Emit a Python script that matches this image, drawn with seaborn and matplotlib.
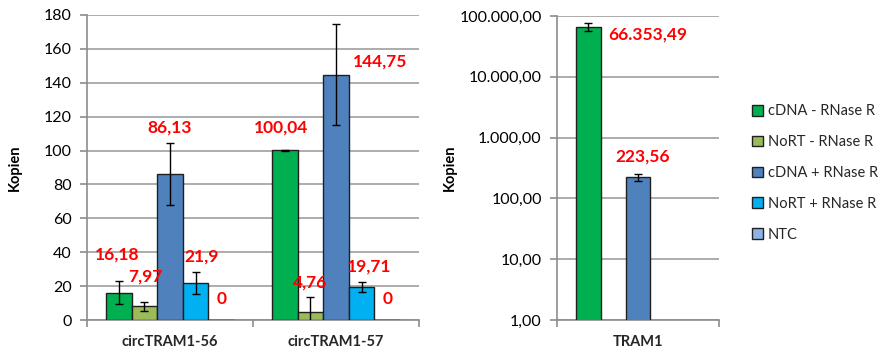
import numpy as np
import pandas as pd
import seaborn as sns
import matplotlib.pyplot as plt
from matplotlib.ticker import FixedLocator, FuncFormatter, NullFormatter
from matplotlib.patches import Patch

# ---- data -------------------------------------------------------------
conditions = ["cDNA - RNase R", "NoRT - RNase R", "cDNA + RNase R", "NoRT + RNase R", "NTC"]

circ_targets = ["circTRAM1-56", "circTRAM1-57"]
circ56_copies = [16.18, 7.97, 86.13, 21.9, 0.0]
circ57_copies = [100.04, 4.76, 144.75, 19.71, 0.0]
circ56_err = [6.8, 2.4, 18.2, 6.3, 0.0]
circ57_err = [0.4, 9.0, 29.8, 2.9, 0.0]

linear_targets = ["TRAM1"]
tram1_copies = [66353.49, np.nan, 223.56, np.nan, np.nan]
tram1_err = [9000.0, 0.0, 30.0, 0.0, 0.0]

circ_yticks = [0, 20, 40, 60, 80, 100, 120, 140, 160, 180]
log_yticks = [1, 10, 100, 1000, 10000, 100000]

palette = ["#00B050", "#9BBB59", "#4F81BD", "#00B0F0", "#8DB3E2"]

# label offsets (pixels) from the top centre of each bar
circ_label_offsets = {
    (0, 0): (-2, 38), (0, 1): (1, 30), (0, 2): (0, 47), (0, 3): (6, 26), (0, 4): (0, 21),
    (1, 0): (-4, 23), (1, 1): (0, 29), (1, 2): (44, 13), (1, 3): (8, 20), (1, 4): (0, 21),
}
tram_label_offsets = {(0, 0): (60, -8), (0, 2): (5, 21)}


def de_number(v):
    """German number formatting: '.' thousands, ',' decimals."""
    if v >= 1000:
        s = f"{v:,.2f}"
    else:
        s = f"{v:g}"
    return s.replace(",", "#").replace(".", ",").replace("#", ".")


def de_tick(v, pos=None):
    s = f"{v:,.2f}"
    return s.replace(",", "#").replace(".", ",").replace("#", ".")


# ---- styling ----------------------------------------------------------
sns.set_theme(style="white")
plt.rcParams["font.family"] = ["Lato", "DejaVu Sans"]
GRID = "#A6A6A6"
AXIS = "#8C8C8C"
BAR_W = 0.77

fig = plt.figure(figsize=(8.79, 3.55), dpi=100)
ax1 = fig.add_axes([87 / 879, 1 - 320 / 355, 332 / 879, 305 / 355])
ax2 = fig.add_axes([557 / 879, 1 - 320 / 355, 162 / 879, 304 / 355])


def build_frame(targets, value_lists, err_lists):
    rows = []
    for t, vals, errs in zip(targets, value_lists, err_lists):
        for c, v, e in zip(conditions, vals, errs):
            rows.append({"target": t, "condition": c, "copies": v, "err": e})
    return pd.DataFrame(rows)


df_circ = build_frame(circ_targets, [circ56_copies, circ57_copies], [circ56_err, circ57_err])
df_tram = build_frame(linear_targets, [tram1_copies], [tram1_err])


def draw(ax, df, offsets, log=False):
    if log:
        ax.set_yscale("log")
    sns.barplot(data=df.dropna(subset=["copies"]), x="target", y="copies", hue="condition",
                hue_order=conditions, palette=palette, saturation=1, width=BAR_W,
                edgecolor="#1F1F1F", linewidth=1.0, errorbar=None, legend=False,
                ax=ax, zorder=3)
    slot = BAR_W / len(conditions)
    ntarget = df["target"].nunique()
    for p in ax.patches:
        xc = p.get_x() + p.get_width() / 2
        cat = int(round(xc))
        hue_i = int(round((xc - cat) / slot + (len(conditions) - 1) / 2))
        row = df[(df["target"] == df["target"].unique()[cat]) &
                 (df["condition"] == conditions[hue_i])].iloc[0]
        val, err = row["copies"], row["err"]
        if err > 0:
            ax.errorbar(xc, val, yerr=err, fmt="none", ecolor="black",
                        elinewidth=1.0, capsize=3.2, capthick=1.0, zorder=4)
        if (cat, hue_i) in offsets:
            dx, dy = offsets[(cat, hue_i)]
            ax.annotate(de_number(val), (xc, val), xytext=(dx, dy),
                        textcoords="offset pixels", ha="center", va="center",
                        color="#FF0000", fontsize=12.5, fontweight="bold", zorder=5,
                        annotation_clip=False)
    ax.set_xlim(-0.5, ntarget - 0.5)
    ax.set_xlabel("")
    ax.set_ylabel("Kopien", fontsize=10.5, fontweight="bold", color="black")
    ax.yaxis.grid(True, color=GRID, linewidth=1.3, zorder=0)
    ax.set_axisbelow(True)
    for s in ["top", "right"]:
        ax.spines[s].set_visible(False)
    for s in ["left", "bottom"]:
        ax.spines[s].set_color(AXIS)
        ax.spines[s].set_linewidth(1.2)
    ax.tick_params(axis="y", which="major", direction="out", length=5, width=1.2,
                   color=AXIS, labelsize=11.5, labelcolor="black", pad=6, left=True)
    ax.tick_params(axis="y", which="minor", length=0)
    ax.tick_params(axis="x", which="major", length=0, labelsize=10.5, pad=11)
    ax.xaxis.set_minor_locator(FixedLocator(np.arange(-0.5, ntarget, 1.0)))
    ax.xaxis.set_minor_formatter(NullFormatter())
    ax.tick_params(axis="x", which="minor", direction="out", length=5, width=1.2,
                   color=AXIS, bottom=True)
    for lbl in ax.get_xticklabels():
        lbl.set_fontweight("bold")


draw(ax1, df_circ, circ_label_offsets)
ax1.set_ylim(0, 180)
ax1.yaxis.set_major_locator(FixedLocator(circ_yticks))
ax1.yaxis.set_label_coords(-0.195, 0.5)

draw(ax2, df_tram, tram_label_offsets, log=True)
ax2.set_ylim(1, 100000)
ax2.yaxis.set_major_locator(FixedLocator(log_yticks))
ax2.yaxis.set_major_formatter(FuncFormatter(de_tick))
ax2.yaxis.set_minor_formatter(NullFormatter())
ax2.yaxis.set_label_coords(-0.62, 0.5)

handles = [Patch(facecolor=c, edgecolor="#1F1F1F", linewidth=1.0) for c in palette]
fig.legend(handles, conditions, loc="center left", bbox_to_anchor=(746 / 879, 1 - 173 / 355),
           frameon=False, fontsize=10.5, handlelength=0.75, handleheight=0.75,
           handletextpad=0.35, labelspacing=1.15, borderaxespad=0)

fig.savefig("out.png", dpi=100)
